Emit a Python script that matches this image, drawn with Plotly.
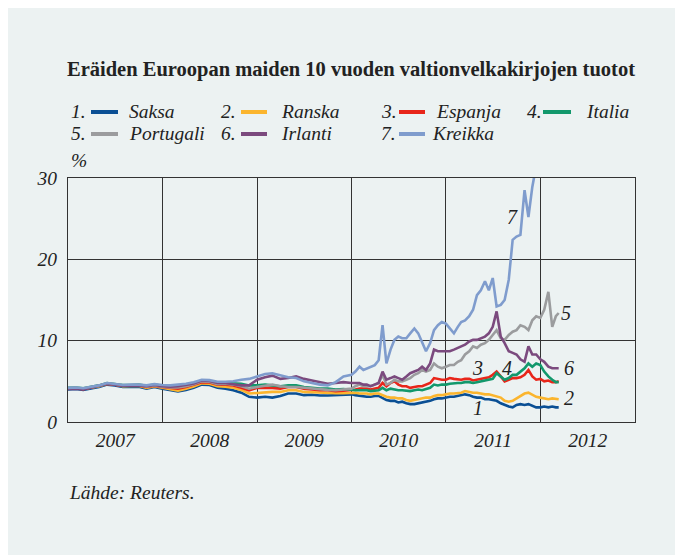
import plotly.graph_objects as go
import pandas as pd

# ---------------- data ----------------
dates_monthly = pd.date_range("2007-01-01", "2009-12-01", freq="MS")
dates_semi = []
for d in pd.date_range("2010-01-01", "2012-03-01", freq="MS"):
    dates_semi.append(d)
    if d < pd.Timestamp("2012-03-01"):
        dates_semi.append(d + pd.Timedelta(days=15))
dates_semi.append(pd.Timestamp("2012-03-12"))
dates = list(dates_monthly) + dates_semi

saksa = [4.0, 4.05, 3.95, 4.15, 4.3, 4.6, 4.5, 4.3, 4.3, 4.35, 4.1, 4.3,
         4.1, 3.9, 3.75, 3.95, 4.2, 4.6, 4.55, 4.2, 4.1, 3.9, 3.6, 3.1,
         3.0, 3.1, 3.0, 3.2, 3.5, 3.5, 3.3, 3.35, 3.25, 3.25, 3.3, 3.3,
         3.4, 3.3, 3.2, 3.1, 3.1, 3.1, 3.2, 3.2, 3.0, 2.7, 2.6, 2.6, 2.4, 2.5, 2.3, 2.2,
         2.2, 2.3, 2.4, 2.5, 2.6, 2.8, 2.9, 2.9, 3.0, 3.1, 3.1, 3.2, 3.3, 3.4, 3.3, 3.1,
         3.0, 3.0, 2.8, 2.8, 2.7, 2.6, 2.3, 2.1, 1.9, 1.8, 2.1, 2.2, 2.1, 2.2, 2.0, 1.8,
         1.8, 1.9, 1.8, 1.9, 1.8, 1.8]
ranska = [4.1, 4.15, 4.05, 4.25, 4.4, 4.7, 4.6, 4.4, 4.4, 4.45, 4.2, 4.4,
          4.2, 4.0, 3.85, 4.1, 4.35, 4.75, 4.7, 4.4, 4.35, 4.2, 3.95, 3.5,
          3.6, 3.7, 3.7, 3.7, 3.9, 3.9, 3.7, 3.65, 3.6, 3.6, 3.55, 3.55,
          3.6, 3.6, 3.5, 3.5, 3.5, 3.4, 3.5, 3.5, 3.3, 3.1, 3.0, 3.0, 2.9, 2.9, 2.7, 2.6,
          2.7, 2.8, 2.9, 3.0, 3.0, 3.2, 3.3, 3.3, 3.4, 3.5, 3.5, 3.6, 3.6, 3.8, 3.7, 3.6,
          3.6, 3.5, 3.4, 3.4, 3.3, 3.2, 3.0, 2.6, 2.5, 2.6, 2.9, 3.1, 3.5, 3.6, 3.3, 3.1,
          3.0, 2.9, 2.8, 2.9, 2.8, 2.8]
espanja = [4.1, 4.15, 4.05, 4.3, 4.45, 4.7, 4.6, 4.45, 4.45, 4.5, 4.3, 4.45,
           4.3, 4.15, 4.1, 4.3, 4.55, 4.9, 4.85, 4.6, 4.6, 4.5, 4.2, 3.9,
           4.2, 4.2, 4.2, 4.1, 4.3, 4.3, 4.1, 4.0, 3.9, 3.9, 3.8, 3.85,
           3.9, 4.0, 4.1, 4.1, 4.1, 4.0, 4.1, 4.2, 4.8, 4.4, 4.8, 5.0, 4.6, 4.4, 4.4, 4.2,
           4.3, 4.4, 4.4, 4.6, 4.8, 5.4, 5.3, 5.2, 5.2, 5.4, 5.3, 5.2, 5.2, 5.3, 5.3, 5.1,
           5.2, 5.3, 5.4, 5.5, 5.8, 6.2, 5.6, 5.0, 5.2, 5.4, 5.4, 5.5, 5.8, 6.4, 5.6, 5.2,
           5.3, 5.0, 5.1, 4.9, 4.9, 5.0]
italia = [4.2, 4.25, 4.15, 4.35, 4.5, 4.8, 4.7, 4.55, 4.55, 4.6, 4.45, 4.6,
          4.45, 4.35, 4.35, 4.5, 4.75, 5.1, 5.05, 4.8, 4.8, 4.75, 4.7, 4.5,
          4.5, 4.6, 4.5, 4.4, 4.5, 4.5, 4.3, 4.2, 4.1, 4.1, 4.0, 4.05,
          3.9, 3.9, 3.9, 3.9, 3.9, 3.8, 3.9, 3.9, 4.2, 3.9, 4.1, 4.0, 3.9, 3.9, 3.8, 3.8,
          3.9, 4.0, 3.9, 4.0, 4.2, 4.6, 4.5, 4.6, 4.6, 4.7, 4.8, 4.8, 4.8, 4.9, 4.9, 4.8,
          4.9, 5.0, 5.1, 5.2, 5.3, 6.0, 5.6, 5.2, 5.4, 5.8, 5.8, 6.2, 6.6, 7.2, 6.8, 7.2,
          7.0, 6.2, 5.6, 5.2, 4.9, 4.9]
portugali = [4.15, 4.2, 4.1, 4.3, 4.45, 4.75, 4.65, 4.5, 4.5, 4.55, 4.35, 4.5,
             4.35, 4.25, 4.25, 4.4, 4.65, 5.0, 4.95, 4.65, 4.7, 4.6, 4.4, 4.1,
             4.3, 4.5, 4.6, 4.4, 4.3, 4.3, 4.2, 4.1, 4.0, 3.95, 3.9, 4.0,
             4.1, 4.4, 4.6, 4.4, 4.4, 4.4, 4.6, 4.8, 5.8, 4.6, 4.8, 5.2, 5.0, 5.0, 5.2, 5.4,
             5.8, 6.0, 6.4, 6.2, 6.4, 7.2, 6.8, 6.6, 6.8, 7.0, 7.0, 7.4, 7.6, 8.3, 8.7, 9.3,
             9.1, 9.5, 9.7, 10.1, 10.7, 11.3, 10.3, 10.1, 10.7, 11.1, 11.3, 11.9, 11.7, 11.3, 12.5, 13.0,
             12.8, 13.8, 16.0, 11.7, 13.0, 13.4]
irlanti = [4.05, 4.1, 4.0, 4.25, 4.4, 4.7, 4.6, 4.45, 4.45, 4.5, 4.4, 4.55,
           4.4, 4.35, 4.4, 4.55, 4.75, 5.1, 5.05, 4.8, 4.8, 4.65, 4.5, 4.5,
           5.2, 5.5, 5.7, 5.3, 5.4, 5.6, 5.3, 5.1, 4.9, 4.7, 4.8, 4.9,
           4.8, 4.8, 4.8, 4.6, 4.6, 4.4, 4.6, 4.8, 6.2, 5.2, 5.4, 5.6, 5.4, 5.2, 5.6, 6.0,
           6.2, 6.4, 6.8, 6.4, 7.2, 8.9, 8.7, 8.7, 8.7, 8.7, 8.9, 9.1, 9.3, 9.5, 9.9, 10.1,
           10.1, 10.3, 10.5, 10.9, 11.7, 13.6, 10.5, 9.7, 8.7, 8.5, 8.3, 7.7, 7.4, 9.3, 8.3, 8.3,
           7.7, 7.4, 6.8, 6.6, 6.6, 6.6]
kreikka = [4.2, 4.25, 4.15, 4.35, 4.5, 4.8, 4.7, 4.55, 4.6, 4.6, 4.5, 4.65,
           4.55, 4.5, 4.6, 4.7, 4.9, 5.2, 5.15, 4.95, 4.95, 5.0, 5.2, 5.3,
           5.6, 5.9, 6.0, 5.7, 5.5, 5.4, 5.0, 4.8, 4.6, 4.5, 4.9, 5.6,
           5.8, 6.2, 6.8, 6.4, 6.6, 6.8, 7.0, 7.6, 11.9, 7.2, 8.9, 10.1, 10.5, 10.3, 10.3, 10.9,
           11.5, 10.9, 9.9, 8.7, 9.7, 11.3, 11.9, 12.3, 12.1, 11.5, 10.9, 11.7, 12.3, 12.5, 13.0, 13.8,
           15.6, 16.2, 17.3, 16.2, 17.7, 14.2, 14.4, 15.0, 17.5, 22.4, 22.8, 23.0, 28.5, 25.2, 28.9, 31.5,
           33.0, 34.0, 34.5, 35.0, 36.0, 37.0]

series_names = ["Saksa", "Ranska", "Espanja", "Italia", "Portugali", "Irlanti", "Kreikka"]
series_values = [saksa, ranska, espanja, italia, portugali, irlanti, kreikka]
series_colors = ["#0a4f94", "#fbb52e", "#e8261a", "#12986c", "#9b9c9e", "#7b4a7e", "#7f9ccd"]
year_labels = ["2007", "2008", "2009", "2010", "2011", "2012"]

# line labels: (text, date, value)
line_labels = [("7", "2011-09-16", 25.2), ("5", "2012-04-08", 13.4), ("6", "2012-04-19", 6.6),
               ("2", "2012-04-19", 2.9), ("1", "2011-05-04", 1.7), ("3", "2011-05-04", 6.6),
               ("4", "2011-08-27", 6.6)]

# ---------------- layout helpers ----------------
OFF = 8  # page body margin
W, H = 683 - OFF, 555 - OFF
# plot area in window pixel coordinates
L0, R0, T0, B0 = 68, 635, 178, 422
L, R, T, B = L0 - OFF, R0 - OFF, T0 - OFF, B0 - OFF


def px(x):
    return (x - L0) / (R0 - L0)


def py(y):
    return (B0 - y) / (B0 - T0)


SERIF = "Liberation Serif"
TXT = "#222222"
BG = "#ecf2f2"
FS = 19.5

fig = go.Figure()
for name, vals, col in zip(series_names, series_values, series_colors):
    fig.add_trace(go.Scatter(x=dates, y=vals, mode="lines", name=name,
                             line=dict(color=col, width=2.6), showlegend=False))

annotations = []
shapes = []

# title
annotations.append(dict(text="<b>Eräiden Euroopan maiden 10 vuoden valtionvelkakirjojen tuotot</b>",
                        xref="paper", yref="paper", x=px(65), y=py(69), xanchor="left", yanchor="middle",
                        showarrow=False, font=dict(family=SERIF, size=20.5, color=TXT)))

# manual legend
cols = [(69, 91, 118, 127), (219, 241, 267, 279), (379, 399, 425, 434), (525, 543, 571, 584)]
rows = [111, 133]
for i, (name, col) in enumerate(zip(series_names, series_colors)):
    r, c = divmod(i, 4)
    nx, lx0, lx1, tx = cols[c]
    if i == 6:
        tx = 430
    yy = rows[r]
    annotations.append(dict(text=f"{i+1}.", xref="paper", yref="paper", x=px(nx), y=py(yy),
                            xanchor="left", yanchor="middle", showarrow=False,
                            font=dict(family=SERIF, size=FS, color=TXT, style="italic")))
    annotations.append(dict(text=name, xref="paper", yref="paper", x=px(tx), y=py(yy),
                            xanchor="left", yanchor="middle", showarrow=False,
                            font=dict(family=SERIF, size=FS, color=TXT, style="italic")))
    shapes.append(dict(type="line", xref="paper", yref="paper", x0=px(lx0), x1=px(lx1),
                       y0=py(yy + 1), y1=py(yy + 1), line=dict(color=col, width=4)))

# % label
annotations.append(dict(text="%", xref="paper", yref="paper", x=px(69), y=py(160),
                        xanchor="left", yanchor="middle", showarrow=False,
                        font=dict(family=SERIF, size=FS, color=TXT, style="italic")))
# source
annotations.append(dict(text="Lähde: Reuters.", xref="paper", yref="paper", x=px(67), y=py(492),
                        xanchor="left", yanchor="middle", showarrow=False,
                        font=dict(family=SERIF, size=FS, color=TXT, style="italic")))

# line labels
for t, d, v in line_labels:
    annotations.append(dict(text=t, x=d, y=v, xref="x", yref="y", showarrow=False,
                            xanchor="center", yanchor="middle",
                            font=dict(family=SERIF, size=20, color=TXT, style="italic")))

fig.update_layout(
    width=W, height=H,
    margin=dict(l=L, r=W - R, t=T, b=H - B, pad=0),
    paper_bgcolor=BG,
    plot_bgcolor=BG,
    annotations=annotations,
    shapes=shapes,
    showlegend=False,
)
fig.update_xaxes(type="date", range=["2007-01-01", "2013-01-01"], tick0="2007-01-01", dtick="M12",
                 ticklabelmode="period", tickformat="%Y", showgrid=True, gridcolor="#333333",
                 gridwidth=1.2, showline=True, linecolor="#333333", linewidth=1.4, mirror=True,
                 ticks="", zeroline=False,
                 tickfont=dict(family=SERIF, size=FS, color=TXT, style="italic"))
fig.update_yaxes(range=[0, 30], tickvals=[0, 10, 20, 30], showgrid=True, gridcolor="#333333",
                 gridwidth=1.2, showline=True, linecolor="#333333", linewidth=1.4, mirror=True,
                 ticks="", zeroline=False, ticklabelstandoff=6,
                 tickfont=dict(family=SERIF, size=FS, color=TXT, style="italic"))

fig.write_html("out.html")
